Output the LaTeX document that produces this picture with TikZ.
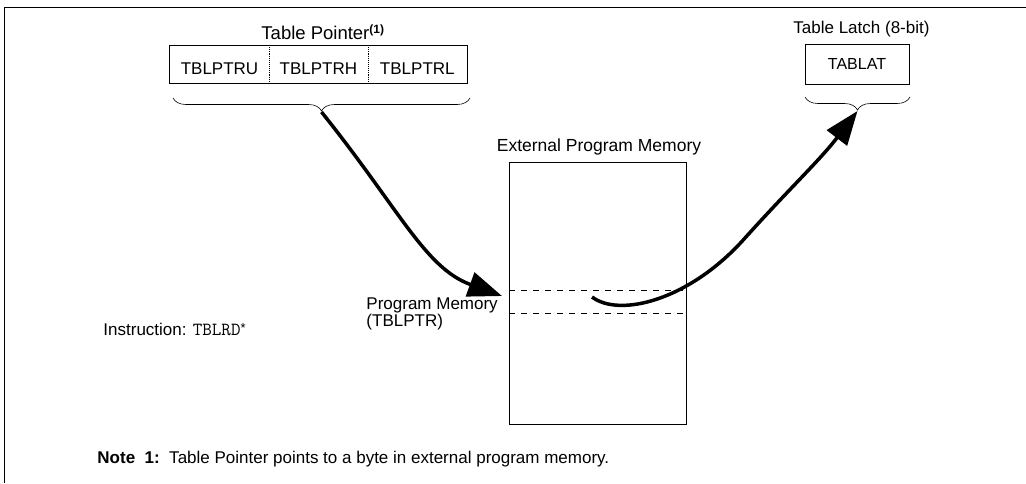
\documentclass[tikz,border=0pt]{standalone}
\usepackage{fontspec}
\setmainfont{Liberation Sans}
\usetikzlibrary{arrows.meta,decorations.pathreplacing}

\tikzset{
  cell/.style={minimum width=98.9pt, minimum height=37pt, inner sep=0pt, text height=21pt, text depth=0pt},
  lbl/.style={anchor=base west, inner sep=0pt},
  brc/.style={decorate, decoration={brace,mirror,amplitude=13pt}, line width=.6pt},
  fat/.style={line width=3.5pt, -{Triangle[length=34pt,width=25pt]}},
  cut/.style={dash pattern=on 6pt off 6pt, line width=.6pt}
}

\begin{document}
\begin{tikzpicture}[x=1pt, y=-1pt, font=\fontsize{17}{20}\selectfont, line width=.9pt]
\useasboundingbox (0,0) rectangle (1026,483);
% frame
\draw (1026,7) -- (4,7) -- (4,483);

% table pointer
\node[cell] (ptru) at (219.5,64) {TBLPTRU};
\node[cell] (ptrh) at (318.4,64) {TBLPTRH};
\node[cell] (ptrl) at (417.3,64) {TBLPTRL};
\draw (ptru.north west) rectangle (ptrl.south east);
\draw[densely dotted, line width=1.1pt] (ptru.north east) -- (ptru.south east);
\draw[densely dotted, line width=1.1pt] (ptrh.north east) -- (ptrh.south east);
\node[lbl, font=\fontsize{18.5}{21}\selectfont] (ptrlbl) at (261,39)
  {Table Pointer\raisebox{6pt}{\fontsize{12}{14}\selectfont\bfseries(1)}};
\draw[brc] (173,98) -- (470,98);
\coordinate (ptrtip) at (321.5,112);

% table latch
\node[draw, minimum width=104pt, minimum height=40pt, inner sep=0pt, font=\fontsize{16}{19}\selectfont] (lat) at (857,64) {TABLAT};
\node[lbl] (latlbl) at (793,33) {Table Latch (8-bit)};
\draw[brc] (805,97) -- (910,97);
\coordinate (lattip) at (857.5,111);

% program memory
\node[draw, minimum width=177pt, minimum height=262pt, inner sep=0pt] (mem) at (598.2,293) {};
\node[anchor=base, inner sep=0pt, font=\fontsize{17.5}{20}\selectfont] (memlbl) at (599,151) {External Program Memory};
\coordinate (rowtop) at (0,290);
\coordinate (rowbot) at (0,313);
\draw[cut] (mem.west |- rowtop) -- (mem.east |- rowtop);
\draw[cut] (mem.west |- rowbot) -- (mem.east |- rowbot);
\node[lbl] (pmem) at (366,309) {Program Memory};
\node[lbl] (pmreg) at (366,326) {(TBLPTR)};
\coordinate (ptrhit) at (502,296);
\coordinate (latstart) at (592,297);

% arrows
\draw[fat] (ptrtip) .. controls (400,210) and (425,268) .. (ptrhit);
\draw[fat] (latstart) .. controls (620,318) and (690,300) .. (745,238)
  .. controls (790,188) and (820,160) .. (lattip);

\node[lbl] (instr) at (103,335) {Instruction: {\fontsize{18.5}{20}\selectfont\ttfamily TBLRD}\raisebox{3pt}{\fontsize{13}{14}\selectfont*}};
\node[lbl] (note) at (97,463) {\textbf{Note~~1:}~~Table Pointer points to a byte in external program memory.};

\end{tikzpicture}
\end{document}
